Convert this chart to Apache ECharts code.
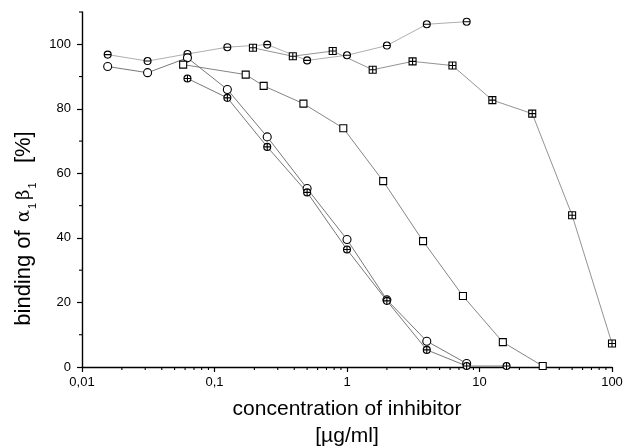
<!DOCTYPE html>
<html>
<head>
<meta charset="utf-8">
<script src="https://cdn.jsdelivr.net/npm/echarts@6/dist/echarts.min.js"></script>
<style>html,body{margin:0;padding:0;background:#fff}#c{width:636px;height:448px}</style>
</head>
<body>
<div id="c"></div>
<script>
// ---- data ----
var xTickLabels = ['0,01', '0,1', '1', '10', '100'];
var yTickValues = [0, 20, 40, 60, 80, 100];
var xMinorTicks = [0.02,0.03,0.04,0.05,0.06,0.07,0.08,0.09,0.2,0.3,0.4,0.5,0.6,0.7,0.8,0.9,2,3,4,5,6,7,8,9,20,30,40,50,60,70,80,90];
var yMinorTicks = [10, 30, 50, 70, 90, 110];

// circle with horizontal bar
var seriesA_x = [0.015625, 0.03125, 0.0625, 0.125, 0.25, 0.5, 1, 2, 4, 8];
var seriesA_y = [96.8, 94.8, 97.0, 99.1, 99.9, 95.0, 96.6, 99.6, 106.2, 107.0];
// open circle
var seriesB_x = [0.015625, 0.03125, 0.0625, 0.125, 0.25, 0.5, 1, 2, 4, 8];
var seriesB_y = [93.1, 91.2, 95.8, 86.0, 71.3, 55.3, 39.5, 20.8, 8.0, 1.1];
// circle with cross
var seriesC_x = [0.0625, 0.125, 0.25, 0.5, 1, 2, 4, 8, 16];
var seriesC_y = [89.4, 83.4, 68.2, 54.1, 36.4, 20.5, 5.3, 0.3, 0.3];
// open square
var seriesD_x = [0.058, 0.172, 0.235, 0.469, 0.9375, 1.875, 3.75, 7.5, 15, 30];
var seriesD_y = [93.7, 90.6, 87.1, 81.6, 74.0, 57.6, 39.0, 22.0, 7.7, 0.3];
// square with cross
var seriesE_x = [0.195, 0.39, 0.78, 1.5625, 3.125, 6.25, 12.5, 25, 50, 100];
var seriesE_y = [98.9, 96.3, 97.9, 92.1, 94.7, 93.4, 82.7, 78.5, 47.0, 7.3];

function pairs(xs, ys) { return xs.map(function (x, i) { return [x, ys[i]]; }); }

var CIRC = 'M0,5A5,5,0,1,1,10,5A5,5,0,1,1,0,5Z';
var SQ = 'M0,0L10,0L10,10L0,10Z';
var sym = {
  A: 'path://' + CIRC + 'M0,5L10,5',
  B: 'path://' + CIRC,
  C: 'path://' + CIRC + 'M0,5L10,5M5,0L5,10',
  D: 'path://' + SQ,
  E: 'path://' + SQ + 'M0,5L10,5M5,0L5,10'
};

function lineSeries(data, symbol, size, lineColor) {
  return {
    type: 'line',
    data: data,
    symbol: symbol,
    symbolSize: size,
    showAllSymbol: true,
    animation: false,
    lineStyle: { color: lineColor, width: 0.8 },
    itemStyle: { color: '#fff', borderColor: '#000', borderWidth: 1.1 },
    emphasis: { disabled: true },
    z: 3
  };
}

var FONT = 'Liberation Sans, Arial, sans-serif';
var chart = echarts.init(document.getElementById('c'), null, { renderer: 'canvas' });

chart.setOption({
  backgroundColor: '#fff',
  animation: false,
  grid: { left: 82, right: 24, top: 12, bottom: 81, containLabel: false, outerBoundsMode: 'none' },
  xAxis: {
    type: 'log',
    logBase: 10,
    min: 0.01,
    max: 100,
    axisLine: { show: true, lineStyle: { color: '#000', width: 1.4 } },
    axisTick: { show: true, length: 5, lineStyle: { color: '#000', width: 1.2 } },
    splitLine: { show: false },
    axisLabel: {
      color: '#000', fontFamily: FONT, fontSize: 13, margin: 9,
      formatter: function (v) {
        var e = Math.round(Math.log10(v)) + 2;
        return xTickLabels[e] !== undefined ? xTickLabels[e] : '';
      }
    },
    name: 'concentration of inhibitor\n[µg/ml]',
    nameLocation: 'middle',
    nameGap: 29,
    nameTextStyle: { color: '#000', fontFamily: FONT, fontSize: 21, lineHeight: 27, verticalAlign: 'top' }
  },
  yAxis: {
    type: 'value',
    min: 0,
    max: 110,
    interval: 20,
    axisLine: { show: true, lineStyle: { color: '#000', width: 1.4 } },
    axisTick: { show: true, length: 5, customValues: yTickValues, lineStyle: { color: '#000', width: 1.2 } },
    splitLine: { show: false },
    axisLabel: { color: '#000', fontFamily: FONT, fontSize: 13, margin: 11, customValues: yTickValues },
    name: '{t|binding of }{g|α}{s|1}{g|β}{s|1}{t|   [%]}',
    nameLocation: 'middle',
    nameGap: 37,
    nameRotate: 90,
    nameTextStyle: {
      color: '#000',
      padding: [0, 78, 0, 0],
      rich: {
        t: { fontFamily: FONT, fontSize: 22, color: '#000', lineHeight: 28 },
        g: { fontFamily: 'DejaVu Serif, serif', fontSize: 18, color: '#000', lineHeight: 28, padding: [0, 1, 0, 2] },
        s: { fontFamily: FONT, fontSize: 11, color: '#000', lineHeight: 28, verticalAlign: 'bottom', padding: [8, 1, 0, 0] }
      }
    }
  },
  series: [
    lineSeries(pairs(seriesA_x, seriesA_y), sym.A, 7, '#999'),
    lineSeries(pairs(seriesB_x, seriesB_y), sym.B, 8, '#555'),
    lineSeries(pairs(seriesC_x, seriesC_y), sym.C, 7, '#555'),
    lineSeries(pairs(seriesD_x, seriesD_y), sym.D, 7, '#666'),
    lineSeries(pairs(seriesE_x, seriesE_y), sym.E, 7, '#777'),
    {
      type: 'custom',
      clip: false,
      silent: true,
      data: xMinorTicks.map(function (v) { return [v, 0]; }),
      renderItem: function (params, api) {
        var p = api.coord([api.value(0), api.value(1)]);
        return { type: 'line', shape: { x1: p[0], y1: p[1], x2: p[0], y2: p[1] + 3 }, style: { stroke: '#000', lineWidth: 1.1 } };
      },
      z: 2
    },
    {
      type: 'custom',
      clip: false,
      silent: true,
      data: yMinorTicks.map(function (v) { return [0.01, v]; }),
      renderItem: function (params, api) {
        var p = api.coord([api.value(0), api.value(1)]);
        return { type: 'line', shape: { x1: p[0] - 3, y1: p[1], x2: p[0], y2: p[1] }, style: { stroke: '#000', lineWidth: 1.1 } };
      },
      z: 2
    }
  ]
});
</script>
</body>
</html>
